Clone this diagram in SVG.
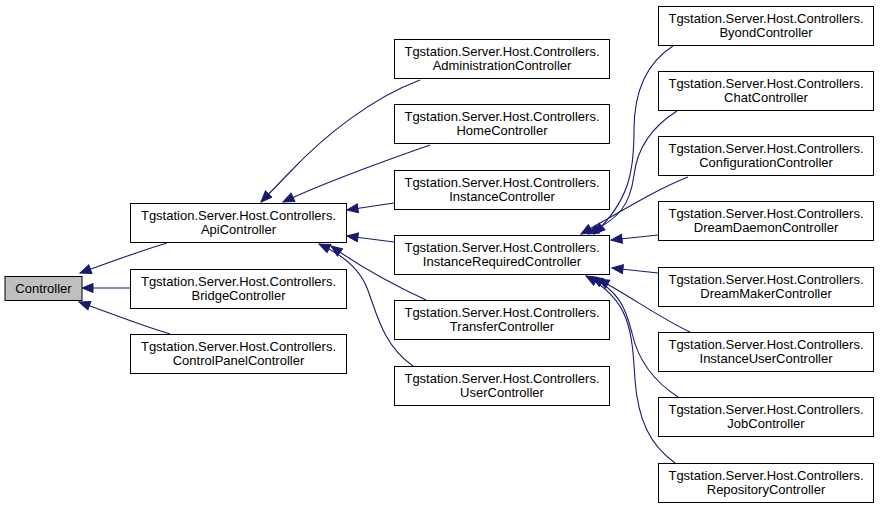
<svg xmlns="http://www.w3.org/2000/svg" width="880" height="509" viewBox="0 0 880 509">
<defs>
<marker id="ah" markerUnits="userSpaceOnUse" markerWidth="14" markerHeight="12" refX="12" refY="5" orient="auto">
<path d="M1,0.5 L12,5 L1,9.5 z" fill="#191970" stroke="#191970" stroke-width="1"/>
</marker>
</defs>
<style>
rect{fill:#fff;stroke:#000;stroke-width:1}
#n_controller rect{fill:#bfbfbf}
text{font-family:"Liberation Sans",Arial,sans-serif;font-size:13px;fill:#000;text-anchor:middle}
#edges path{fill:none;stroke:#191970;stroke-width:1.1;marker-end:url(#ah)}
</style>
<rect x="0" y="0" width="880" height="509" style="fill:#fff;stroke:none"/>
<g id="edges">
<path d="M167,243 C140,251 110,262 80,273"/>
<path d="M130,288 L82,288"/>
<path d="M170,334 C140,325 110,313 79,302"/>
<path d="M420,80 C372,98 325,135 290,172 L261,202"/>
<path d="M430,145 C390,159 330,180 283,202"/>
<path d="M394,203 L347,210"/>
<path d="M394,242 L347,236"/>
<path d="M426,300 C398,287 362,268 331,246"/>
<path d="M413,366 C382,345 376,310 367,288 C360,270 343,255 319,244"/>
<path d="M673,46 C648,62 634,90 634,130 C634,170 630,200 594,234"/>
<path d="M677,111 C650,128 637,150 634,175 C630,205 620,218 588,234"/>
<path d="M688,177 C660,188 635,203 581,234"/>
<path d="M658,235 L611,240"/>
<path d="M658,273 L612,268"/>
<path d="M690,332 C660,318 630,296 598,279"/>
<path d="M678,397 C655,382 638,360 632,333 C625,305 618,292 592,277"/>
<path d="M675,463 C650,445 638,420 635,380 C632,330 630,300 586,276"/>
</g>
<g id="n_controller"><rect x="5" y="276.5" width="77" height="24"/><text x="43.5" y="292.5">Controller</text></g>
<g id="n_api"><rect x="130.5" y="203.5" width="216" height="39"/><text x="238.5" y="220">Tgstation.Server.Host.Controllers.</text><text x="238.5" y="234">ApiController</text></g>
<g id="n_bridge"><rect x="130.5" y="269.5" width="216" height="39"/><text x="238.5" y="286">Tgstation.Server.Host.Controllers.</text><text x="238.5" y="300">BridgeController</text></g>
<g id="n_controlpanel"><rect x="130.5" y="334.5" width="216" height="39"/><text x="238.5" y="351">Tgstation.Server.Host.Controllers.</text><text x="238.5" y="365">ControlPanelController</text></g>
<g id="n_administration"><rect x="394.5" y="39.5" width="215" height="39"/><text x="502" y="56">Tgstation.Server.Host.Controllers.</text><text x="502" y="70">AdministrationController</text></g>
<g id="n_home"><rect x="394.5" y="104.5" width="215" height="39"/><text x="502" y="121">Tgstation.Server.Host.Controllers.</text><text x="502" y="135">HomeController</text></g>
<g id="n_instance"><rect x="394.5" y="170.5" width="215" height="39"/><text x="502" y="187">Tgstation.Server.Host.Controllers.</text><text x="502" y="201">InstanceController</text></g>
<g id="n_instancerequired"><rect x="394.5" y="235.5" width="215" height="39"/><text x="502" y="252">Tgstation.Server.Host.Controllers.</text><text x="502" y="266">InstanceRequiredController</text></g>
<g id="n_transfer"><rect x="394.5" y="300.5" width="215" height="39"/><text x="502" y="317">Tgstation.Server.Host.Controllers.</text><text x="502" y="331">TransferController</text></g>
<g id="n_user"><rect x="394.5" y="366.5" width="215" height="39"/><text x="502" y="383">Tgstation.Server.Host.Controllers.</text><text x="502" y="397">UserController</text></g>
<g id="n_byond"><rect x="658.5" y="6.5" width="215" height="39"/><text x="766" y="23">Tgstation.Server.Host.Controllers.</text><text x="766" y="37">ByondController</text></g>
<g id="n_chat"><rect x="658.5" y="71.5" width="215" height="39"/><text x="766" y="88">Tgstation.Server.Host.Controllers.</text><text x="766" y="102">ChatController</text></g>
<g id="n_configuration"><rect x="658.5" y="136.5" width="215" height="39"/><text x="766" y="153">Tgstation.Server.Host.Controllers.</text><text x="766" y="167">ConfigurationController</text></g>
<g id="n_dreamdaemon"><rect x="658.5" y="201.5" width="215" height="39"/><text x="766" y="218">Tgstation.Server.Host.Controllers.</text><text x="766" y="232">DreamDaemonController</text></g>
<g id="n_dreammaker"><rect x="658.5" y="267.5" width="215" height="39"/><text x="766" y="284">Tgstation.Server.Host.Controllers.</text><text x="766" y="298">DreamMakerController</text></g>
<g id="n_instanceuser"><rect x="658.5" y="332.5" width="215" height="39"/><text x="766" y="349">Tgstation.Server.Host.Controllers.</text><text x="766" y="363">InstanceUserController</text></g>
<g id="n_job"><rect x="658.5" y="397.5" width="215" height="39"/><text x="766" y="414">Tgstation.Server.Host.Controllers.</text><text x="766" y="428">JobController</text></g>
<g id="n_repository"><rect x="658.5" y="463.5" width="215" height="39"/><text x="766" y="480">Tgstation.Server.Host.Controllers.</text><text x="766" y="494">RepositoryController</text></g>
</svg>
